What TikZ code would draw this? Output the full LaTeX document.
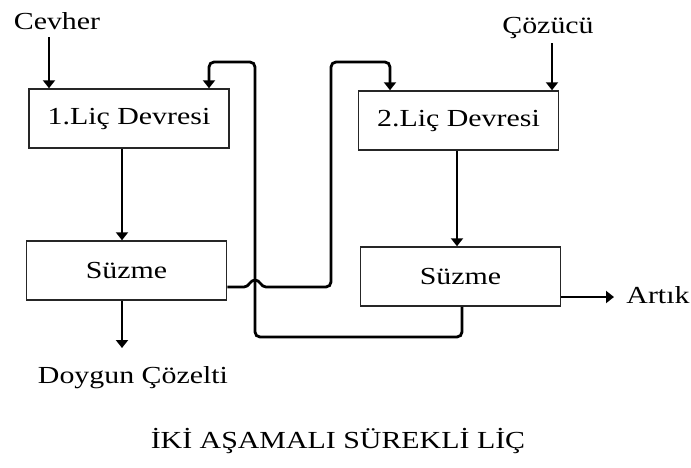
\documentclass[tikz,border=0pt]{standalone}
\usepackage{fontspec}
\setmainfont{Liberation Serif}[FakeStretch=1.22]
\usetikzlibrary{arrows.meta}
\begin{document}
\begin{tikzpicture}[x=1pt,y=-1pt,
  box/.style={draw=black!85,line width=1.5pt,minimum width=200pt,minimum height=59pt,inner sep=0pt,font=\fontsize{24.5}{28}\selectfont},
  lbl/.style={inner sep=0pt,font=\fontsize{24.5}{28}\selectfont},
  conn/.style={line width=2.8pt},
  arr/.style={conn,-{Triangle[length=8pt,width=12pt]}}]
\useasboundingbox (0,0) rectangle (691,467);
% boxes
\node[box] (b1) at (129,118.5) {1.Liç Devresi};
\node[box] (b2) at (458.5,120.5) {2.Liç Devresi};
\node[box] (s1) at (126.5,270.5) {Süzme};
\node[box] (s2) at (460.5,276.5) {Süzme};
% labels
\node[lbl] (cev) at (57,21) {Cevher};
\node[lbl] (coz) at (548,28) {Çözücü};
\node[lbl] (doy) at (133,378) {Doygun Çözelti};
\node[lbl] (art) at (658,295) {Artık};
\node[lbl] (ttl) at (338,441) {İKİ AŞAMALI SÜREKLİ LİÇ};
% free ends
\coordinate (cevS) at (49,37);
\coordinate (cozS) at (552,43);
\coordinate (doyE) at (122,348);
\coordinate (artE) at (614,297);
% connectors
\draw[arr] (cevS) -- (b1.north -| cevS);
\draw[arr] (cozS) -- (b2.north -| cozS);
\draw[arr] (b1.south -| 122,0) -- (s1.north -| 122,0);
\draw[arr] (b2.south -| 457,0) -- (s2.north -| 457,0);
\draw[arr] (s1.south -| doyE) -- (doyE);
\draw[arr] (s2.east |- artE) -- (artE);
% recycle from Süzme 2 to 1st circuit
\draw[arr,rounded corners=5pt] (s2.south -| 462,0) |- (255,337) |- (209,62) -- (b1.north -| 209,0);
% Süzme 1 to 2nd circuit with hop
\draw[arr] (s1.east |- 0,287) -- (244,287)
   .. controls (249,287) and (250,280) .. (255,280)
   .. controls (260,280) and (261,287) .. (266,287)
   [rounded corners=5pt] -- (331,287) -- (331,62) -- (390,62) -- (b2.north -| 390,0);
\end{tikzpicture}
\end{document}
